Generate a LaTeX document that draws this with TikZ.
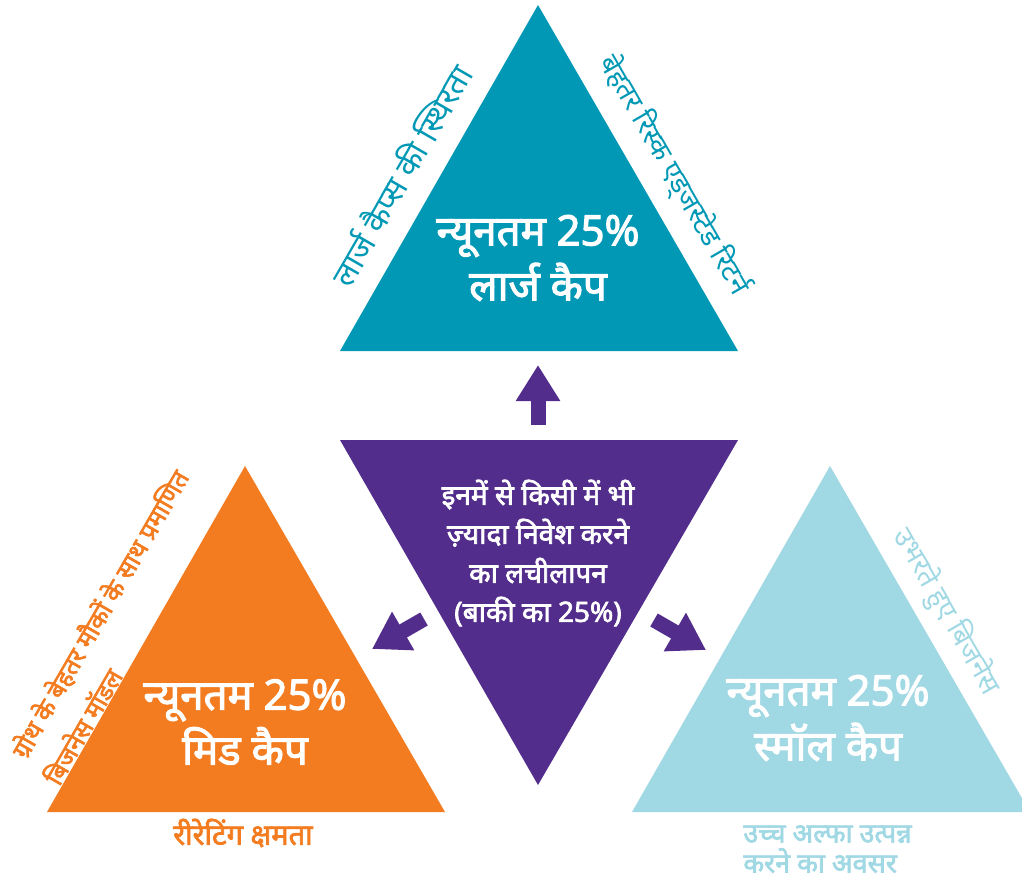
\documentclass[tikz,border=0pt]{standalone}
\usepackage{fontspec}
\setmainfont{Noto Sans}[Script=Devanagari, AutoFakeBold=2.5]
\definecolor{largecol}{RGB}{0,152,180}
\definecolor{midcol}{RGB}{243,123,32}
\definecolor{smallcol}{RGB}{160,216,228}
\definecolor{flexcol}{RGB}{82,45,140}
\tikzset{
  capname/.style={text=white, font=\bfseries\fontsize{21}{27.5}\selectfont, align=center},
  sidenote/.style={font=\fontsize{14}{17}\selectfont, inner sep=0pt},
  bignote/.style={font=\bfseries\fontsize{13.5}{15}\selectfont, inner sep=0pt},
  fatarrow/.style={draw=flexcol, line width=7.5pt, -{Triangle[width=21pt,length=18pt]}}
}
\usetikzlibrary{arrows.meta}
\begin{document}
\begin{tikzpicture}[x=0.5pt,y=-0.5pt]
\clip (0,0) rectangle (1022,884);

% triangles
\fill[largecol] (340,351) -- (538,5) -- (738,351) -- cycle;
\fill[midcol] (47,812) -- (245,466) -- (445,812) -- cycle;
\fill[smallcol] (632,812) -- (830,466) -- (1030,812) -- cycle;
\fill[flexcol] (340,440) -- (738,440) -- (538,785) -- cycle;

% texts inside
\node[capname] (large) at (538,258) {न्यूनतम 25\%\\लार्ज कैप};
\node[capname] (mid) at (245,722) {न्यूनतम 25\%\\मिड कैप};
\node[capname] (small) at (828,718) {न्यूनतम 25\%\\स्मॉल कैप};
\node[text=white, font=\bfseries\fontsize{14}{19.5}\selectfont, align=center] (flex) at (538,553)
  {इनमें से किसी में भी\\ज़्यादा निवेश करने\\का लचीलापन\\(बाकी का 25\%)};

% side notes
\node[sidenote, text=largecol, font=\fontsize{16}{19}\selectfont, rotate=60] (stab) at (400,175) {लार्ज कैप्स की स्थिरता};
\node[sidenote, text=largecol, rotate=-60] (risk) at (674,175) {बेहतर रिस्क एड्जस्टेड रिटर्न};
\node[sidenote, text=midcol, font=\bfseries\fontsize{12.5}{15}\selectfont, rotate=60] (growth) at (100,614) {ग्रोथ के बेहतर मौकों के साथ प्रमाणित};
\node[sidenote, text=midcol, font=\bfseries\fontsize{12.5}{15}\selectfont, rotate=60] (model) at (82,726) {बिजनेस मॉडल};
\node[sidenote, text=smallcol, rotate=-60] (emerg) at (946,612) {उभरते हुए बिजनेस};

% notes below
\node[bignote, text=midcol, font=\bfseries\fontsize{14.5}{15}\selectfont] (rerate) at (243,833) {रीरेटिंग क्षमता};
\node[bignote, text=smallcol, align=left, anchor=north west] (alpha) at (743,825)
  {उच्च अल्फा उत्पन्न\\करने का अवसर};

% arrows
\coordinate (upS) at (538,425);
\coordinate (upE) at (538,365);
\coordinate (leftS) at (424,619);
\coordinate (leftE) at (372,649);
\coordinate (rightS) at (654,620);
\coordinate (rightE) at (706,650);
\path[fatarrow] (upS) -- (upE);
\path[fatarrow] (leftS) -- (leftE);
\path[fatarrow] (rightS) -- (rightE);
\end{tikzpicture}
\end{document}
